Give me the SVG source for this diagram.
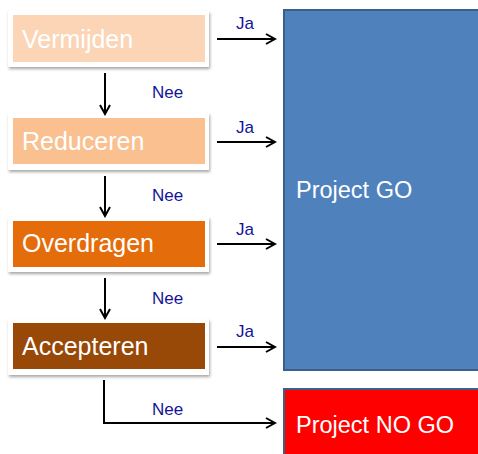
<svg xmlns="http://www.w3.org/2000/svg" width="478" height="454" viewBox="0 0 478 454">
<defs>
<marker id="ah" markerWidth="12" markerHeight="12" refX="10" refY="6" orient="auto" markerUnits="userSpaceOnUse">
<path d="M1,1 L10,6 L1,11" fill="none" stroke="#000" stroke-width="2"/>
</marker>
<filter id="sh" x="-10%" y="-20%" width="125%" height="150%">
<feDropShadow dx="1" dy="2" stdDeviation="1.5" flood-color="#000" flood-opacity="0.35"/>
</filter>
</defs>
<style>
.frame{fill:#fff;filter:url(#sh)}
.lbl{font-family:"Liberation Sans",Arial,sans-serif;font-size:25px;fill:#fff}
.big{font-family:"Liberation Sans",Arial,sans-serif;font-size:23.5px;fill:#fff}
.small{font-family:"Liberation Sans",Arial,sans-serif;font-size:17px;fill:#14149a}
.con{stroke:#000;stroke-width:2;fill:none}
</style>
<rect width="478" height="454" fill="#fff"/>
<g id="project-go">
<rect x="284" y="10" width="200" height="360" fill="#4f81bd" stroke="#3a5f8c" stroke-width="2"/>
<text class="big" x="296" y="198">Project GO</text>
</g>
<g id="project-nogo">
<rect x="284" y="389" width="200" height="70" fill="#ff0000" stroke="#3a5f8c" stroke-width="2"/>
<text class="big" x="296" y="433">Project NO GO</text>
</g>
<g id="vermijden">
<rect class="frame" x="8" y="11" width="201" height="56"/>
<rect x="13" y="15" width="192" height="47" fill="#fbd5b5"/>
<text class="lbl" x="22" y="48">Vermijden</text>
</g>
<g id="reduceren">
<rect class="frame" x="8" y="113" width="201" height="57"/>
<rect x="13" y="118" width="192" height="46" fill="#fac090"/>
<text class="lbl" x="22" y="150">Reduceren</text>
</g>
<g id="overdragen">
<rect class="frame" x="8" y="217" width="201" height="55"/>
<rect x="13" y="221" width="192" height="46" fill="#e46c0a"/>
<text class="lbl" x="22" y="252">Overdragen</text>
</g>
<g id="accepteren">
<rect class="frame" x="8" y="319" width="201" height="56"/>
<rect x="13" y="323" width="192" height="46" fill="#984807"/>
<text class="lbl" x="22" y="355">Accepteren</text>
</g>
<g id="connectors">
<line class="con" x1="217" y1="39" x2="275" y2="39" marker-end="url(#ah)"/>
<line class="con" x1="217" y1="142" x2="275" y2="142" marker-end="url(#ah)"/>
<line class="con" x1="217" y1="244" x2="275" y2="244" marker-end="url(#ah)"/>
<line class="con" x1="217" y1="347" x2="275" y2="347" marker-end="url(#ah)"/>
<line class="con" x1="105" y1="73" x2="105" y2="114" marker-end="url(#ah)"/>
<line class="con" x1="105" y1="176" x2="105" y2="216" marker-end="url(#ah)"/>
<line class="con" x1="105" y1="278" x2="105" y2="318" marker-end="url(#ah)"/>
<polyline class="con" points="104,380 104,423 275,423" marker-end="url(#ah)"/>
<text class="small" x="236" y="29">Ja</text>
<text class="small" x="236" y="133">Ja</text>
<text class="small" x="236" y="235">Ja</text>
<text class="small" x="236" y="337">Ja</text>
<text class="small" x="152" y="98">Nee</text>
<text class="small" x="152" y="201">Nee</text>
<text class="small" x="152" y="304">Nee</text>
<text class="small" x="152" y="415">Nee</text>
</g>
</svg>
